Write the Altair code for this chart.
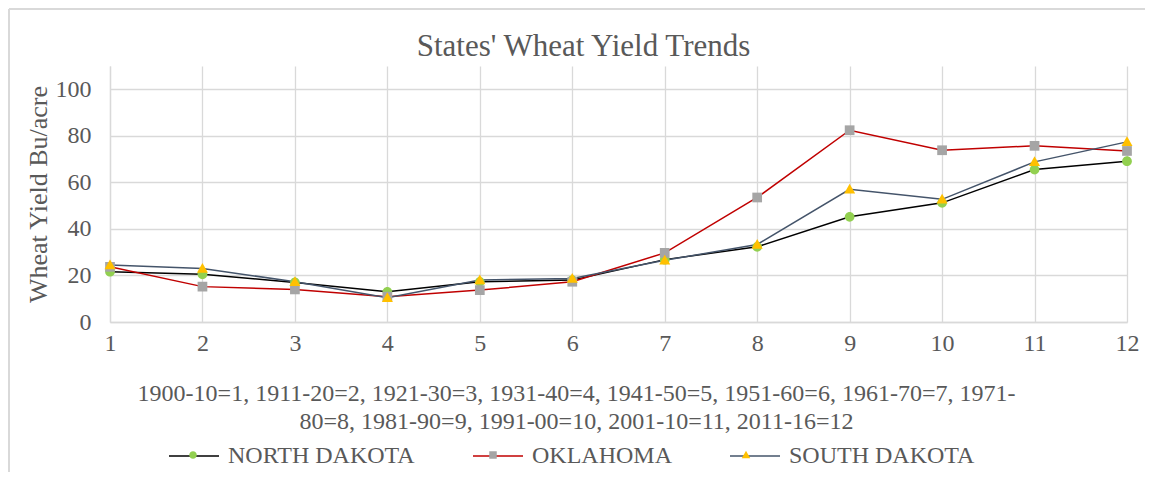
import altair as alt
import pandas as pd

periods = [1, 2, 3, 4, 5, 6, 7, 8, 9, 10, 11, 12]
states = ["NORTH DAKOTA", "OKLAHOMA", "SOUTH DAKOTA"]
north_dakota = [21.6, 20.5, 17.0, 13.0, 17.3, 18.0, 26.8, 32.3, 45.2, 51.2, 65.5, 69.1]
oklahoma = [23.7, 15.2, 14.0, 10.9, 13.7, 17.3, 29.7, 53.5, 82.4, 73.8, 75.7, 73.5]
south_dakota = [24.5, 23.0, 17.3, 10.4, 18.0, 18.7, 26.5, 33.3, 57.0, 52.7, 68.8, 77.4]
y_ticks = [0, 20, 40, 60, 80, 100]
title_text = "States' Wheat Yield Trends"
y_title = "Wheat Yield Bu/acre"
x_title = ["1900-10=1, 1911-20=2, 1921-30=3, 1931-40=4, 1941-50=5, 1951-60=6, 1961-70=7, 1971-",
           "80=8, 1981-90=9, 1991-00=10, 2001-10=11, 2011-16=12"]

line_colors = ["#000000", "#C00000", "#44546A"]
marker_colors = ["#92D050", "#A5A5A5", "#FFC000"]
circle = "M-0.15,0A0.15,0.15 0 1,0 0.15,0A0.15,0.15 0 1,0 -0.15,0Z"
square = "M-0.15,-0.15H0.15V0.15H-0.15Z"
triangle = "M0,-0.17L0.17,0.13H-0.17Z"

rows = []
for name, vals in zip(states, [north_dakota, oklahoma, south_dakota]):
    for p, v in zip(periods, vals):
        rows.append({"Period": p, "Yield": v, "State": name, "Series": name})
df = pd.DataFrame(rows)

FONT = "Liberation Serif"
TXT = "#595959"

x_enc = alt.X("Period:Q", scale=alt.Scale(domain=[1, 12], nice=False, zero=False),
              axis=alt.Axis(values=periods, format="d", title=x_title, labelFlush=False,
                            labelPadding=9, titleX=466, titleY=78, titleAlign="center",
                            titleBaseline="alphabetic", titleLineHeight=28,
                            titleFontSize=24, titleFontWeight="normal"))
y_enc = alt.Y("Yield:Q", scale=alt.Scale(domain=[0, 110], nice=False),
              axis=alt.Axis(values=y_ticks, title=y_title, labelPadding=19,
                            titleX=-72, titleY=128, titleAngle=270, titleAlign="center",
                            titleBaseline="middle", titleFontSize=26, titleFontWeight="normal"))

legend_common = dict(title=None, orient="none", legendX=58, legendY=364,
                     direction="horizontal", symbolSize=2500, labelFont=FONT,
                     labelFontSize=24, labelLimit=500, labelOffset=8, columnPadding=55,
                     padding=0)

lines = alt.Chart(df).mark_line(strokeWidth=1.5).encode(
    x=x_enc, y=y_enc,
    color=alt.Color("State:N", scale=alt.Scale(domain=states, range=line_colors),
                    legend=alt.Legend(symbolType="stroke", symbolStrokeWidth=1.5,
                                      labelColor=TXT, **legend_common)),
    order="Period:Q",
)

points = alt.Chart(df).mark_point(filled=True, size=4200, opacity=1, strokeWidth=0).encode(
    x="Period:Q", y="Yield:Q",
    fill=alt.Fill("Series:N", scale=alt.Scale(range=marker_colors),
                  legend=alt.Legend(symbolStrokeWidth=0, labelOpacity=0, **legend_common)),
    shape=alt.Shape("Series:N", scale=alt.Scale(range=[circle, square, triangle]),
                    legend=alt.Legend(symbolStrokeWidth=0, labelOpacity=0, **legend_common)),
)

frame_df = pd.DataFrame({"a": [0]})
frame_top = alt.Chart(frame_df).mark_rule(stroke="#D9D9D9", strokeWidth=2).encode(
    x=alt.value(-101), x2=alt.value(1200), y=alt.value(-57))
frame_left = alt.Chart(frame_df).mark_rule(stroke="#D9D9D9", strokeWidth=2).encode(
    x=alt.value(-101), y=alt.value(-57), y2=alt.value(700))

chart = alt.layer(frame_top, frame_left, lines, points).properties(
    width=1017, height=256,
    autosize=alt.AutoSizeParams(type="none"),
    padding={"left": 102, "top": 58, "right": 18, "bottom": 150},
    background="white",
    title=alt.Title(title_text, font=FONT, fontSize=31, fontWeight="normal", color=TXT,
                    anchor="middle", dx=-35, offset=-79, baseline="alphabetic"),
).configure_axis(
    labelFont=FONT, labelFontSize=24, labelColor=TXT, titleFont=FONT, titleColor=TXT,
    domainColor="#D9D9D9", domainWidth=1.3, gridColor="#D9D9D9", gridWidth=1.3,
    ticks=False, grid=True,
).configure_view(stroke=None)

chart.save("out.html", embed_options={"renderer": "svg", "actions": False})
